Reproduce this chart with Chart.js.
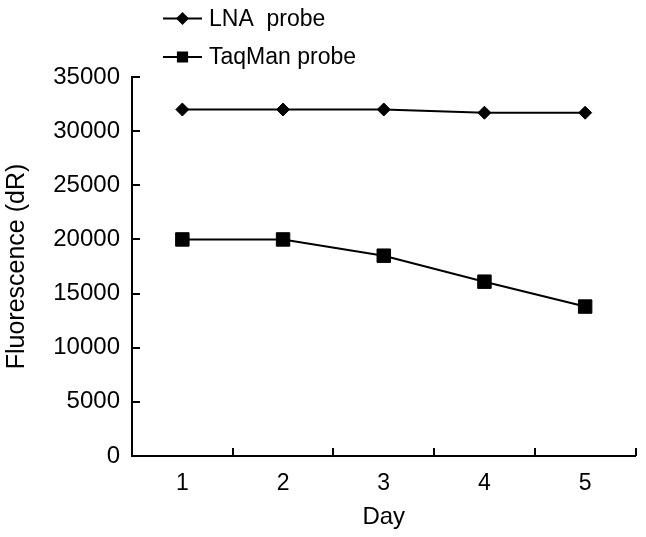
<!DOCTYPE html>
<html>
<head>
<meta charset="utf-8">
<script src="https://cdn.jsdelivr.net/npm/chart.js@4"></script>
<style>
  html, body { margin: 0; padding: 0; background: #fff; }
  #wrap { width: 646px; height: 537px; }
</style>
</head>
<body>
<div id="wrap"><canvas id="c" width="646" height="537"></canvas></div>
<script>
const days = ['1', '2', '3', '4', '5'];
const lnaProbe = [32000, 32000, 32000, 31700, 31700];
const taqmanProbe = [20000, 20000, 18500, 16100, 13800];
const yTicks = [0, 5000, 10000, 15000, 20000, 25000, 30000, 35000];

const FONT = '"Liberation Sans", Arial, sans-serif';

const inwardTicks = {
  id: 'inwardTicks',
  afterDraw(chart) {
    const ctx = chart.ctx;
    const xs = chart.scales.x, ys = chart.scales.y;
    const area = chart.chartArea;
    ctx.save();
    ctx.strokeStyle = '#000';
    ctx.lineWidth = 2;
    ctx.beginPath();
    for (let i = 1; i <= days.length; i++) {
      const px = Math.round(xs.getPixelForValue(i - 0.5));
      ctx.moveTo(px, area.bottom);
      ctx.lineTo(px, area.bottom - 8);
    }
    ys.ticks.forEach(t => {
      const py = Math.round(ys.getPixelForValue(t.value));
      ctx.moveTo(area.left, py);
      ctx.lineTo(area.left + 8, py);
    });
    ctx.stroke();
    ctx.restore();
  }
};

const customLegend = {
  id: 'customLegend',
  afterDraw(chart) {
    const ctx = chart.ctx;
    const rows = [18.5, 57];
    const specs = [{r: 5}, {r: 6.5}];
    ctx.save();
    chart.data.datasets.forEach((ds, i) => {
      const y = rows[i];
      ctx.strokeStyle = '#000';
      ctx.lineWidth = 2;
      ctx.beginPath();
      ctx.moveTo(163, y);
      ctx.lineTo(202, y);
      ctx.stroke();
      ctx.fillStyle = '#000';
      Chart.helpers.drawPoint(ctx, {pointStyle: ds.pointStyle, radius: specs[i].r, rotation: 0, borderWidth: 1}, 182.5, y);
      ctx.fill();
      ctx.fillStyle = '#000';
      ctx.font = '23px ' + FONT;
      ctx.textAlign = 'left';
      ctx.textBaseline = 'middle';
      ctx.fillText(ds.label, 209, y + 1);
    });
    ctx.restore();
  }
};

new Chart(document.getElementById('c'), {
  type: 'line',
  data: {
    labels: days,
    datasets: [
      {
        label: 'LNA  probe',
        data: lnaProbe,
        borderColor: '#000',
        backgroundColor: '#000',
        borderWidth: 2,
        pointStyle: 'rectRot',
        pointRadius: 6.5,
        pointBorderWidth: 1,
        tension: 0
      },
      {
        label: 'TaqMan probe',
        data: taqmanProbe,
        borderColor: '#000',
        backgroundColor: '#000',
        borderWidth: 2,
        pointStyle: 'rect',
        pointRadius: 9.5,
        pointBorderWidth: 1,
        tension: 0
      }
    ]
  },
  options: {
    responsive: false,
    animation: false,
    devicePixelRatio: 1,
    layout: { padding: { top: 77, right: 10, left: 0, bottom: 0 } },
    plugins: {
      legend: { display: false },
      tooltip: { enabled: false }
    },
    scales: {
      x: {
        type: 'category',
        offset: true,
        grid: { display: false, drawTicks: false, offset: true },
        border: { display: true, color: '#000', width: 2 },
        ticks: { color: '#000', font: { family: FONT, size: 23 }, padding: 14, maxRotation: 0 },
        title: { display: true, text: 'Day', color: '#000', font: { family: FONT, size: 24 }, padding: { top: 0, bottom: 5 } },
        afterFit(scale) { scale.height = 81; }
      },
      y: {
        min: 0,
        max: 35000,
        afterBuildTicks(scale) { scale.ticks = yTicks.map(v => ({ value: v })); },
        grid: { display: false, drawTicks: false },
        border: { display: true, color: '#000', width: 2 },
        ticks: { color: '#000', font: { family: FONT, size: 24 }, padding: 12, callback: v => String(v) },
        title: { display: true, text: 'Fluorescence (dR)', color: '#000', font: { family: FONT, size: 25 }, padding: { top: 2, bottom: 0 } },
        afterFit(scale) { scale.width = 132; }
      }
    }
  },
  plugins: [inwardTicks, customLegend]
});
</script>
</body>
</html>
